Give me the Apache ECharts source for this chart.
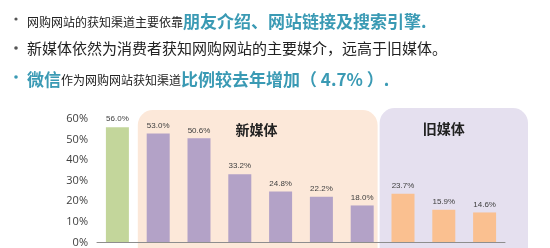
<!DOCTYPE html>
<html><head><meta charset="utf-8">
<script src="https://cdn.jsdelivr.net/npm/echarts@6/dist/echarts.min.js"></script>
<style>html,body{margin:0;padding:0;background:#fff}#c{width:550px;height:248px}</style>
</head><body><div id="c"></div>
<script>
var categories = ['c1','c2','c3','c4','c5','c6','c7','c8','c9','c10'];
var values = [56.0, 53.0, 50.6, 33.2, 24.8, 22.2, 18.0, 23.7, 15.9, 14.6];
var groups = ['base','new','new','new','new','new','new','old','old','old'];
var yTicks = [0, 10, 20, 30, 40, 50, 60];
var groupTitles = {new: '新媒体', old: '旧媒体'};
var colors = {base: '#C3D69B', new: '#B3A2C7', old: '#FAC090'};
var CJK = '"Noto Sans CJK SC", sans-serif';
var teal = '#3A9AB4';

var chart = echarts.init(document.getElementById('c'), null, {renderer: 'canvas'});
var opt = {
  animation: false,
  grid: {left: 97, right: 45, top: 119, bottom: 4},
  xAxis: {type: 'category', data: categories, axisTick: {show: false}, axisLabel: {show: false},
    axisLine: {lineStyle: {color: '#8E8E8E', width: 1}}, z: 5},
  yAxis: {type: 'value', min: yTicks[0], max: yTicks[yTicks.length-1], interval: 10,
    splitLine: {show: false}, axisLine: {show: false}, axisTick: {show: false},
    axisLabel: {formatter: '{value}%', color: '#404040', fontSize: 11, margin: 9, fontFamily: '"Open Sans", sans-serif'}},
  series: [{type: 'bar', barWidth: 23, z: 3,
    data: values.map(function(v, i){ return {value: v, itemStyle: {color: colors[groups[i]]}}; }),
    label: {show: true, position: 'top', distance: 4, fontSize: 8, color: '#404040',
      fontFamily: '"Liberation Sans", sans-serif',
      formatter: function(p){ return p.value.toFixed(1) + '%'; }}
  }]
};
chart.setOption(opt);

function xOf(i){ return chart.convertToPixel({xAxisIndex: 0}, categories[i]); }
var band = xOf(1) - xOf(0);
var x0 = xOf(1) - band/2, x1 = xOf(6) + band/2 - 5;
var x2 = xOf(7) - band/2 - 3, x3 = xOf(9) + band/2 + 23;
var g = [
  {type: 'rect', z: -10, shape: {x: x0, y: 110, width: x1 - x0, height: 160, r: 15}, style: {fill: '#FCE8D9'}},
  {type: 'rect', z: -10, shape: {x: x2, y: 108, width: x3 - x2, height: 160, r: 15}, style: {fill: '#E5E0EF'}},
  {type: 'text', z: 10, x: xOf(4) - 24, y: 130, style: {text: groupTitles.new, font: 'bold 14px ' + CJK, fill: '#222', align: 'center', verticalAlign: 'middle'}},
  {type: 'text', z: 10, x: xOf(8), y: 129, style: {text: groupTitles.old, font: 'bold 14px ' + CJK, fill: '#222', align: 'center', verticalAlign: 'middle'}},
  {type: 'circle', shape: {cx: 16, cy: 19, r: 1.6}, style: {fill: '#555'}},
  {type: 'circle', shape: {cx: 16, cy: 48, r: 1.8}, style: {fill: '#555'}},
  {type: 'circle', shape: {cx: 16, cy: 77, r: 1.8}, style: {fill: teal}},
  {type: 'text', x: 27, y: 19, style: {verticalAlign: 'middle',
    text: '{s|网购网站的获知渠道主要依靠}{b|朋友介绍、网站链接及搜索引擎.}',
    rich: {s: {font: '12px ' + CJK, fill: '#222', verticalAlign: 'bottom', lineHeight: 22, padding: [0,0,2,0]},
           b: {font: 'bold 17px ' + CJK, fill: teal, verticalAlign: 'bottom', lineHeight: 22}}}},
  {type: 'text', x: 27, y: 48, style: {verticalAlign: 'middle', text: '新媒体依然为消费者获知网购网站的主要媒介，远高于旧媒体。', font: '15px ' + CJK, fill: '#222'}},
  {type: 'text', x: 27, y: 77, style: {verticalAlign: 'middle',
    text: '{b|微信}{s|作为网购网站获知渠道}{b|比例较去年增加（ 4.7% ）.}',
    rich: {s: {font: '12px ' + CJK, fill: '#222', verticalAlign: 'bottom', lineHeight: 22, padding: [0,0,2,0]},
           b: {font: 'bold 17px ' + CJK, fill: teal, verticalAlign: 'bottom', lineHeight: 22}}}}
];
chart.setOption({graphic: g});
</script></body></html>
